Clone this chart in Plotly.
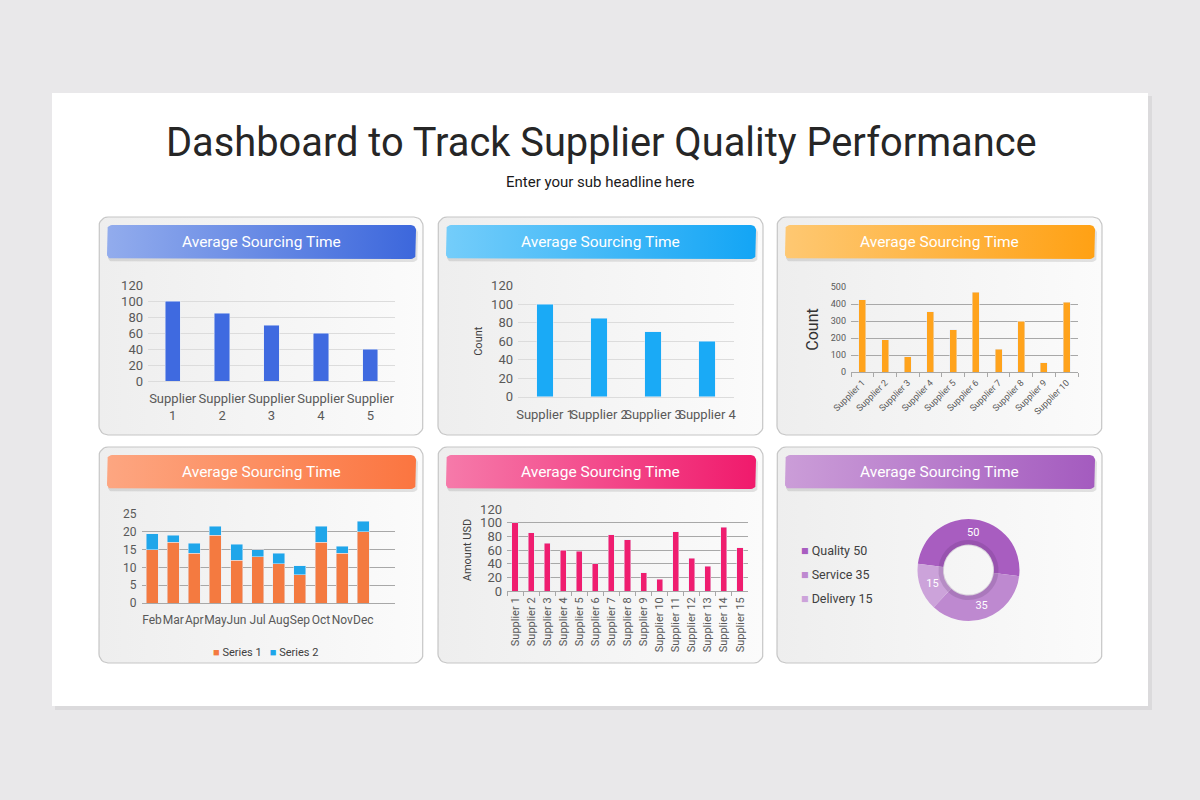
import math
import plotly.graph_objs as go

W, H = 1200, 800

# ---- data ----
p1_suppliers = ["Supplier 1", "Supplier 2", "Supplier 3", "Supplier 4", "Supplier 5"]
p1_values = [100, 85, 70, 60, 40]

p2_suppliers = ["Supplier 1", "Supplier 2", "Supplier 3", "Supplier 4"]
p2_values = [100, 85, 70, 60]

p3_suppliers = ["Supplier %d" % i for i in range(1, 11)]
p3_values = [425, 190, 90, 355, 250, 470, 135, 300, 55, 410]

months = ["Feb", "Mar", "Apr", "May", "Jun", "Jul", "Aug", "Sep", "Oct", "Nov", "Dec"]
series1 = [15, 17, 14, 19, 12, 13, 11, 8, 17, 14, 20]
series2 = [4.5, 2, 2.8, 2.5, 4.5, 2, 3, 2.5, 4.5, 2, 3]
series_names = ["Series 1", "Series 2"]
series_colors = ["#f47a40", "#1fa6ea"]

p5_suppliers = ["Supplier %d" % i for i in range(1, 16)]
p5_values = [100, 85, 70, 60, 58, 40, 82, 75, 27, 17, 87, 48, 36, 93, 63]

donut_labels = ["Quality", "Service", "Delivery"]
donut_values = [50, 35, 15]
donut_colors = ["#a85dc0", "#be89d0", "#cca3da"]

panel_title = "Average Sourcing Time"

# card boxes in pixels (x0, y0, x1, y1) and header gradient colours
cards = [(99, 217, 423, 435), (438, 217, 763, 435), (777, 217, 1102, 435),
         (99, 447, 423, 663), (438, 447, 763, 663), (777, 447, 1102, 663)]
header_cols = [("#92aced", "#3c67dc"), ("#74cdfa", "#13a5f5"), ("#fec872", "#ffa114"),
               ("#fda681", "#fb7540"), ("#f67aaa", "#f01a6c"), ("#cb9dd8", "#a45bbf")]


def px(x):
    return x / W


def py(y):
    return 1 - y / H


def rr_points(x0, y0, x1, y1, r, n=6):
    xs, ys = [], []
    corners = [(x1 - r, y0 + r, -90, 0), (x1 - r, y1 - r, 0, 90),
               (x0 + r, y1 - r, 90, 180), (x0 + r, y0 + r, 180, 270)]
    for cx, cy, a0, a1 in corners:
        for k in range(n + 1):
            a = math.radians(a0 + (a1 - a0) * k / n)
            xs.append(cx + r * math.cos(a))
            ys.append(cy + r * math.sin(a))
    xs.append(xs[0])
    ys.append(ys[0])
    return xs, ys


fig = go.Figure()

# ---- background decorations on a full-page overlay axis ----
for (x0, y0, x1, y1), (c0, c1) in zip(cards, header_cols):
    xs, ys = rr_points(x0, y0, x1, y1, 9)
    fig.add_trace(go.Scatter(x=xs, y=ys, mode="lines", fill="toself",
                             line=dict(color="#c6c6c6", width=1.2),
                             fillgradient=dict(type="horizontal",
                                               colorscale=[[0, "#eeeeee"], [1, "#fbfbfb"]]),
                             hoverinfo="skip", showlegend=False, xaxis="x", yaxis="y"))
    hx0, hy0, hx1, hy1 = x0 + 8, y0 + 8, x1 - 7, y0 + 42
    xs, ys = rr_points(hx0 + 1, hy0 + 3, hx1 + 2, hy1 + 3, 5)
    fig.add_trace(go.Scatter(x=xs, y=ys, mode="lines", fill="toself",
                             line=dict(width=0), fillcolor="rgba(0,0,0,0.10)",
                             hoverinfo="skip", showlegend=False, xaxis="x", yaxis="y"))
    xs, ys = rr_points(hx0, hy0, hx1, hy1, 5)
    fig.add_trace(go.Scatter(x=xs, y=ys, mode="lines", fill="toself",
                             line=dict(width=0),
                             fillgradient=dict(type="horizontal", colorscale=[[0, c0], [1, c1]]),
                             hoverinfo="skip", showlegend=False, xaxis="x", yaxis="y"))

# ---- charts ----
fig.add_trace(go.Bar(x=p1_suppliers, y=p1_values, marker_color="#3f6ae0", width=0.31,
                     showlegend=False, xaxis="x2", yaxis="y2"))
fig.add_trace(go.Bar(x=p2_suppliers, y=p2_values, marker_color="#1aaaf6", width=0.31,
                     showlegend=False, xaxis="x3", yaxis="y3"))
fig.add_trace(go.Bar(x=p3_suppliers, y=p3_values, marker_color="#ffa31c", width=0.31,
                     showlegend=False, xaxis="x4", yaxis="y4"))
for name, vals, col in zip(series_names, [series1, series2], series_colors):
    fig.add_trace(go.Bar(x=months, y=vals, name=name, marker_color=col, width=0.57,
                         showlegend=False, xaxis="x5", yaxis="y5"))
fig.add_trace(go.Bar(x=p5_suppliers, y=p5_values, marker_color="#ef1d6f", width=0.38,
                     showlegend=False, xaxis="x6", yaxis="y6"))

fig.add_trace(go.Pie(labels=donut_labels, values=donut_values, hole=0.5, sort=False,
                     direction="clockwise", rotation=-83,
                     marker=dict(colors=donut_colors, line=dict(width=0)),
                     textinfo="value", textposition="inside",
                     insidetextorientation="horizontal",
                     textfont=dict(color="white", size=11, family="Roboto"),
                     domain=dict(x=[px(917), px(1020)], y=[py(621), py(519)]),
                     showlegend=False))
# inner shadow ring of the donut
fig.add_trace(go.Pie(labels=donut_labels, values=donut_values, hole=0.82, sort=False,
                     direction="clockwise", rotation=-83,
                     marker=dict(colors=["rgba(70,30,90,0.16)"] * 3, line=dict(width=0)),
                     textinfo="none", hoverinfo="skip",
                     domain=dict(x=[px(938), px(999)], y=[py(600), py(540)]),
                     showlegend=False))

tick_col = "#595959"
grid_light = "#dcdcdc"
grid_dark = "#a8a8a8"


def yax(anchor, y0, y1, rng, dtick, size, grid, title=None, tsize=11, tcol="#404040", standoff=6):
    d = dict(anchor=anchor, domain=[py(y0), py(y1)], range=rng, dtick=dtick, fixedrange=True,
             gridcolor=grid, gridwidth=1, zeroline=False, showline=False, automargin=False,
             tickfont=dict(size=size, color=tick_col), ticks="", ticklabelstandoff=4)
    if title:
        d["title"] = dict(text=title, font=dict(size=tsize, color=tcol), standoff=standoff)
    return d


def xax(anchor, x0, x1, size, angle=0, grid=grid_light, ticks="", standoff=4):
    return dict(anchor=anchor, domain=[px(x0), px(x1)], tickangle=angle, fixedrange=True,
                tickfont=dict(size=size, color=tick_col), showgrid=False, automargin=False,
                showline=True, linecolor=grid, linewidth=1, ticklabelstandoff=standoff,
                ticks=ticks, tickson="boundaries", ticklen=4, tickcolor=grid)


layout = dict(
    width=W, height=H, margin=dict(l=0, r=0, t=0, b=0, autoexpand=False),
    paper_bgcolor="#e9e8ea", plot_bgcolor="rgba(0,0,0,0)",
    font=dict(family="Roboto", color="#404040"),
    barmode="stack", showlegend=False,
    xaxis=dict(domain=[0, 1], range=[0, W], visible=False, fixedrange=True, automargin=False),
    yaxis=dict(domain=[0, 1], range=[H, 0], visible=False, fixedrange=True, automargin=False),
    xaxis2=xax("y2", 148, 395, 13, standoff=5),
    yaxis2=yax("x2", 381, 285, [0, 120], 20, 13, grid_light),
    xaxis3=xax("y3", 518, 734, 13, standoff=6),
    yaxis3=yax("x3", 396.7, 285.7, [0, 120], 20, 13, grid_light, "Count", 11),
    xaxis4=xax("y4", 851, 1078, 9, -45, grid_dark, "outside", 1),
    yaxis4=yax("x4", 372, 287, [0, 500], 100, 9, grid_dark, "Count", 16, "#333333", 8),
    xaxis5=dict(xax("y5", 141.5, 395, 12, 0, grid_dark, standoff=6), range=[-0.5, 11.5]),
    yaxis5=yax("x5", 603, 514, [0, 25], 5, 12, grid_dark),
    xaxis6=xax("y6", 507, 748, 11, -90, grid_dark, "outside", 1),
    yaxis6=yax("x6", 591, 509, [0, 120], 20, 13, grid_dark, "Amount USD", 11),
)
fig.update_layout(**layout)

# panel 1 labels on two lines
fig.update_layout(xaxis2=dict(tickmode="array", tickvals=p1_suppliers,
                              ticktext=[s.replace(" ", "<br>") for s in p1_suppliers]))

shapes = [
    dict(type="rect", xref="paper", yref="paper", x0=px(55), x1=px(1152), y0=py(710), y1=py(96),
         fillcolor="rgba(0,0,0,0.06)", line=dict(width=0), layer="below"),
    dict(type="rect", xref="paper", yref="paper", x0=px(52), x1=px(1148), y0=py(706), y1=py(93),
         fillcolor="white", line=dict(width=0), layer="below"),
]
fig.update_layout(shapes=shapes)

annotations = [
    dict(text="Dashboard to Track Supplier Quality Performance", x=px(601), y=py(142),
         xref="paper", yref="paper", showarrow=False, xanchor="center", yanchor="middle",
         font=dict(size=39.8, color="#262626", family="Roboto")),
    dict(text="Enter your sub headline here", x=px(600), y=py(182),
         xref="paper", yref="paper", showarrow=False, xanchor="center", yanchor="middle",
         font=dict(size=15, color="#1a1a1a", family="Roboto")),
]
for (x0, y0, x1, y1) in cards:
    annotations.append(dict(text=panel_title, x=px((x0 + x1) / 2), y=py(y0 + 25),
                            xref="paper", yref="paper", showarrow=False,
                            xanchor="center", yanchor="middle",
                            font=dict(size=15.5, color="white", family="Roboto")))
# stacked bar legend
legend_txt = "   ".join("<span style='color:%s'>■</span> %s" % (c, n)
                        for n, c in zip(series_names, series_colors))
annotations.append(dict(text=legend_txt, x=px(265), y=py(652), xref="paper", yref="paper",
                        showarrow=False, xanchor="center", yanchor="middle",
                        font=dict(size=11, color="#404040", family="Roboto")))
# donut legend
for i, (lab, val, col) in enumerate(zip(donut_labels, donut_values, donut_colors)):
    annotations.append(dict(text="<span style='color:%s'>■</span> %s %d" % (col, lab, val),
                            x=px(799), y=py(550 + 24 * i), xref="paper", yref="paper",
                            showarrow=False, xanchor="left", yanchor="middle",
                            font=dict(size=12.5, color="#404040", family="Roboto")))
fig.update_layout(annotations=annotations)

fig.write_html("out.html", config={"displayModeBar": False},
               post_script="document.body.style.margin='0px';")
